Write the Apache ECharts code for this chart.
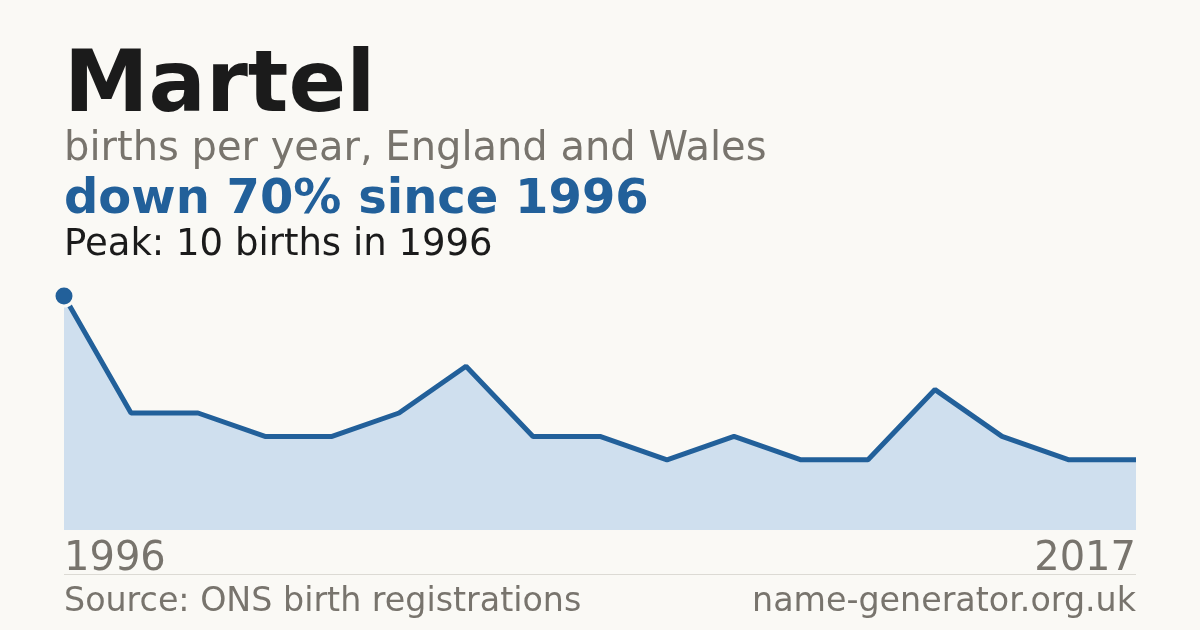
<!DOCTYPE html>
<html>
<head>
<meta charset="utf-8">
<style>
  html, body { margin: 0; padding: 0; background: #faf9f5; }
  #main { width: 1200px; height: 630px; }
</style>
<script src="https://cdn.jsdelivr.net/npm/echarts@6/dist/echarts.min.js"></script>
</head>
<body>
<div id="main"></div>
<script>
(function () {
  var years = ['1996', '1997', '1998', '1999', '2000', '2001', '2002', '2003', '2005',
    '2006', '2008', '2009', '2011', '2012', '2014', '2016', '2017'];
  var births = [10, 5, 5, 4, 4, 5, 7, 4, 4, 3, 4, 3, 3, 6, 4, 3, 3];

  var bg = '#faf9f5';
  var blue = '#22609a';
  var grey = '#78746d';
  var font = 'DejaVu Sans';

  var chart = echarts.init(document.getElementById('main'));

  // text blocks at top and bottom
  var texts = [
    { text: 'Martel', top: 46, size: 85, weight: 'bold', color: '#1b1b1b' },
    { text: 'births per year, England and Wales', top: 130, size: 40, weight: 'normal', color: grey },
    { text: 'down 70% since 1996', top: 177, size: 48, weight: 'bold', color: blue },
    { text: 'Peak: 10 births in 1996', top: 227, size: 37, weight: 'normal', color: '#1b1b1b' },
    { text: 'Source: ONS birth registrations', top: 586, size: 33.3, weight: 'normal', color: grey }
  ];

  var graphic = texts.map(function (t) {
    return {
      type: 'text',
      left: 64,
      top: t.top,
      style: {
        text: t.text,
        fill: t.color,
        font: t.weight + ' ' + t.size + 'px "' + font + '"'
      }
    };
  });
  graphic.push({
    type: 'text',
    right: 64,
    top: 586,
    style: {
      text: 'name-generator.org.uk',
      fill: grey,
      font: 'normal 33.3px "' + font + '"'
    }
  });
  graphic.push({
    type: 'line',
    shape: { x1: 64, y1: 574.5, x2: 1136, y2: 574.5 },
    style: { stroke: '#dcdad4', lineWidth: 1 }
  });

  chart.setOption({
    backgroundColor: bg,
    animation: false,
    grid: { left: 64, right: 64, top: 296, bottom: 100 },
    xAxis: {
      type: 'category',
      data: years,
      boundaryGap: false,
      axisLine: { show: false },
      axisTick: { show: false },
      axisLabel: {
        interval: function (i) { return i === 0 || i === years.length - 1; },
        margin: 10,
        color: grey,
        fontSize: 40,
        fontFamily: font,
        alignMinLabel: 'left',
        alignMaxLabel: 'right'
      }
    },
    yAxis: {
      type: 'value',
      min: 0,
      max: 10,
      show: false,
      splitLine: { show: false }
    },
    graphic: graphic,
    series: [{
      type: 'line',
      data: births,
      lineStyle: { color: blue, width: 5 },
      areaStyle: { color: '#cfdfee', opacity: 1 },
      symbol: 'circle',
      symbolSize: function (v, p) { return p.dataIndex === 0 ? 20 : 0; },
      showSymbol: true,
      itemStyle: { color: blue, borderColor: bg, borderWidth: 3 },
      z: 2
    }]
  });
})();
</script>
</body>
</html>
